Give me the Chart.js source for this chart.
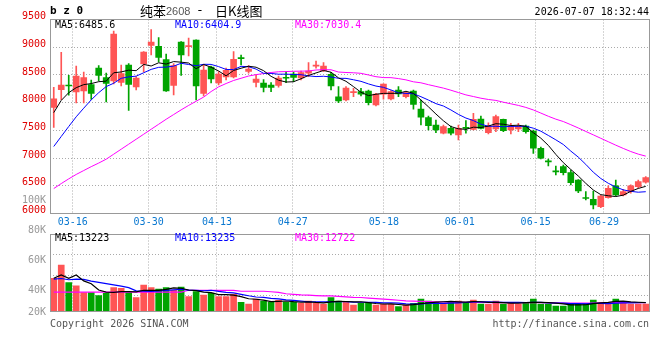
<!DOCTYPE html>
<html>
<head>
<meta charset="utf-8">
<script src="https://cdn.jsdelivr.net/npm/chart.js@4.4.1/dist/chart.umd.min.js"></script>
<style>
html, body { margin: 0; padding: 0; background: #fff; }
#wrap { position: relative; width: 660px; height: 360px; }
#wrap canvas { position: absolute; left: 0; top: 0; }
</style>
</head>
<body>
<div id="wrap">
  <canvas id="priceChart" width="660" height="360"></canvas>
  <canvas id="volChart" width="660" height="360"></canvas>
</div>
<script>
// x-axis date labels and the candle index they sit on
const dateTickIdx = [3, 13, 22, 32, 44, 54, 64, 73];
const dateTickLabels = ['03-16', '03-30', '04-13', '04-27', '05-18', '06-01', '06-15', '06-29'];

// volume axis labels as printed
const volTickValues = [100000, 80000, 60000, 40000, 20000];
const volTickLabels = ['100K', '80K', '60K', '40K', '20K'];

const priceMaLabels = ['MA5:6485.6', 'MA10:6404.9', 'MA30:7030.4'];
const volMaLabels = ['MA5:13223', 'MA10:13235', 'MA30:12722'];

// daily OHLC
const openP = [7916, 8234, 8310, 8192, 8210, 8328, 8625, 8454, 8391, 8364,
  8679, 8282, 8697, 9031, 9017, 8779, 8310, 9094, 9010, 9130,
  8165, 8643, 8355, 8463, 8463, 8805, 8562, 8364, 8355, 8315,
  8310, 8450, 8517, 8445, 8530, 8660, 8577, 8512, 8107, 8048,
  8180, 8198, 8210, 7958, 8151, 8066, 8228, 8107, 8210, 7886,
  7729, 7597, 7447, 7537, 7417, 7545, 7519, 7705, 7458, 7525,
  7700, 7507, 7525, 7579, 7489, 7177, 6940, 6760, 6845, 6736,
  6605, 6280, 6257, 6123, 6285, 6497, 6334, 6394, 6484, 6563];
const highP = [8277, 8908, 8494, 8661, 8553, 8409, 8670, 8535, 9293, 8679,
  8706, 8472, 8920, 9320, 9175, 8878, 8706, 9100, 9166, 9135,
  8688, 8661, 8562, 8625, 8919, 8860, 8667, 8508, 8418, 8360,
  8481, 8559, 8553, 8571, 8724, 8752, 8721, 8548, 8288, 8292,
  8259, 8259, 8228, 8169, 8340, 8219, 8288, 8201, 8228, 8048,
  7759, 7687, 7597, 7579, 7597, 7675, 7808, 7759, 7638, 7777,
  7705, 7628, 7628, 7597, 7507, 7200, 6984, 6857, 6875, 6785,
  6610, 6394, 6406, 6330, 6497, 6605, 6437, 6515, 6605, 6664];
const lowP = [7555, 8053, 8133, 7994, 7994, 8057, 8391, 8012, 8337, 8301,
  7859, 8228, 8553, 8860, 8733, 8201, 8138, 8490, 8842, 8048,
  8120, 8355, 8319, 8409, 8445, 8679, 8530, 8282, 8192, 8198,
  8277, 8360, 8378, 8409, 8468, 8620, 8559, 8228, 7999, 8030,
  8107, 8120, 7958, 7940, 8061, 8048, 8107, 8084, 7880, 7597,
  7507, 7458, 7435, 7417, 7326, 7447, 7507, 7525, 7435, 7476,
  7476, 7435, 7476, 7447, 7086, 6984, 6857, 6695, 6695, 6515,
  6376, 6244, 6082, 6105, 6275, 6316, 6316, 6365, 6455, 6545];
const closeP = [8071, 8319, 8300, 8481, 8454, 8165, 8490, 8349, 9239, 8526,
  8328, 8445, 8914, 9094, 8815, 8210, 8670, 8860, 9020, 8301,
  8589, 8427, 8517, 8584, 8782, 8795, 8607, 8427, 8273, 8273,
  8445, 8440, 8454, 8544, 8571, 8670, 8661, 8301, 8030, 8264,
  8190, 8151, 7999, 8156, 8337, 8198, 8156, 8180, 7970, 7736,
  7584, 7507, 7566, 7447, 7537, 7535, 7700, 7537, 7579, 7747,
  7494, 7579, 7566, 7476, 7177, 6996, 6930, 6750, 6736, 6556,
  6406, 6270, 6154, 6316, 6455, 6334, 6394, 6497, 6574, 6646];

// price moving averages
const ma5 = [7820, 8040, 8180, 8270, 8325, 8344, 8378, 8388, 8539, 8554,
  8586, 8577, 8690, 8661, 8719, 8696, 8741, 8730, 8715, 8612,
  8688, 8639, 8571, 8484, 8580, 8621, 8657, 8639, 8577, 8475,
  8405, 8372, 8377, 8431, 8491, 8536, 8580, 8549, 8447, 8385,
  8289, 8187, 8127, 8152, 8167, 8168, 8169, 8205, 8168, 8048,
  7925, 7795, 7673, 7568, 7528, 7518, 7557, 7551, 7578, 7620,
  7611, 7587, 7593, 7572, 7458, 7359, 7229, 7066, 6918, 6794,
  6676, 6544, 6424, 6340, 6320, 6306, 6331, 6399, 6452, 6490];
const ma10 = [7209, 7390, 7570, 7745, 7900, 8050, 8180, 8290, 8350, 8439,
  8465, 8478, 8539, 8600, 8637, 8641, 8659, 8710, 8688, 8666,
  8692, 8690, 8650, 8599, 8596, 8655, 8648, 8605, 8530, 8527,
  8513, 8514, 8508, 8504, 8483, 8470, 8476, 8463, 8439, 8438,
  8413, 8384, 8338, 8299, 8276, 8229, 8178, 8166, 8160, 8107,
  8047, 7982, 7939, 7868, 7788, 7722, 7676, 7612, 7573, 7574,
  7565, 7572, 7572, 7575, 7539, 7485, 7408, 7329, 7245, 7126,
  7017, 6886, 6745, 6632, 6545, 6479, 6426, 6400, 6384, 6393];
const ma30 = [6450, 6540, 6625, 6705, 6775, 6845, 6910, 6980, 7070, 7160,
  7250, 7340, 7430, 7520, 7610, 7700, 7785, 7870, 7950, 8025,
  8100, 8200, 8285, 8345, 8400, 8440, 8480, 8505, 8525, 8544,
  8557, 8561, 8566, 8568, 8572, 8589, 8594, 8593, 8552, 8544,
  8539, 8529, 8499, 8468, 8452, 8451, 8434, 8411, 8376, 8358,
  8324, 8293, 8262, 8224, 8182, 8140, 8110, 8080, 8057, 8040,
  8008, 7979, 7950, 7914, 7868, 7812, 7754, 7702, 7659, 7602,
  7543, 7480, 7419, 7357, 7295, 7233, 7174, 7118, 7071, 7035];

// volume and its moving averages
const volume = [51300, 72200, 44400, 39300, 28700, 28700, 24000, 27800, 36600, 35600,
  28700, 20900, 40800, 36600, 34500, 36600, 33000, 37700, 22500, 30300,
  25100, 27800, 22500, 22500, 26200, 13700, 11000, 18800, 15700, 13700,
  16800, 13700, 13700, 12100, 15700, 12100, 11000, 20900, 15700, 14600,
  9400, 12100, 13700, 9400, 10500, 10500, 6800, 9400, 12100, 18800,
  15700, 13700, 12100, 14600, 15700, 13700, 17300, 11000, 10500, 15700,
  11000, 13700, 11000, 13700, 18800, 11000, 11000, 7900, 7900, 10500,
  10500, 12100, 17300, 13700, 13700, 18800, 13700, 11000, 11000, 11000];
const volMa5 = [51300, 56500, 51300, 56500, 47200, 42700, 33000, 29700, 29200, 30500,
  30500, 29900, 32500, 32500, 32300, 33900, 36300, 35700, 32900, 32000,
  29700, 28700, 25600, 25600, 24800, 22500, 19200, 18400, 17100, 14600,
  15200, 15700, 14700, 14000, 14400, 13500, 12900, 14400, 15100, 14900,
  14300, 14500, 13100, 11800, 11000, 11200, 10200, 9300, 9900, 11500,
  12600, 13900, 14500, 15000, 14400, 14000, 14700, 14500, 13600, 13600,
  13100, 12400, 12400, 13000, 13600, 13600, 13100, 12500, 11300, 9700,
  9600, 9800, 11700, 12800, 13500, 15100, 15400, 14200, 13700, 13100];
const volMa10 = [50000, 51000, 49000, 50000, 49500, 47000, 45000, 43000, 41000, 38900,
  36600, 31500, 31100, 30800, 31400, 32200, 33100, 34100, 32700, 32200,
  31800, 32500, 30700, 29300, 28400, 26100, 23900, 22000, 21400, 19700,
  18900, 17500, 16600, 15500, 14500, 14300, 14300, 14500, 14500, 14600,
  13900, 13700, 13700, 13500, 12900, 12800, 12400, 11200, 10900, 11300,
  11900, 12100, 11900, 12400, 12900, 13300, 14300, 14500, 14300, 14000,
  13500, 13500, 13400, 13300, 13600, 13400, 12700, 12400, 12200, 11700,
  11600, 11400, 12100, 12100, 11600, 12300, 12600, 12900, 13200, 13300];
const volMa30 = [29500, 29500, 29500, 29500, 29500, 29500, 29500, 29500, 29500, 29500,
  29500, 29500, 29500, 29500, 29500, 29500, 29500, 29500, 32500, 32500,
  32500, 32500, 32500, 32500, 32500, 31000, 31000, 31000, 31000, 30200,
  29100, 27100, 26100, 25200, 24800, 24200, 23800, 23600, 22900, 22200,
  21500, 21200, 20300, 19400, 18600, 17700, 16900, 15900, 15600, 15200,
  14900, 14400, 14100, 13800, 13500, 13500, 13700, 13400, 13200, 13300,
  13100, 13100, 13000, 13100, 13200, 13100, 13100, 12700, 12400, 12300,
  12300, 12300, 12500, 12600, 12700, 13000, 13200, 13300, 13200, 13000];

const UP = '#ff5555';
const DOWN = '#00a400';
const GRID = '#aaaaaa';
const FONT = "'DejaVu Sans Mono', monospace";
const CJK = "'Noto Sans CJK SC', sans-serif";

const idx = closeP.map((_, i) => i);
const candleColors = idx.map(i => closeP[i] >= openP[i] ? UP : DOWN);

const boxPlugin = {
  id: 'box',
  afterDatasetsDraw(chart) {
    const { ctx, chartArea: a } = chart;
    const l = Math.floor(a.left) + 0.5, r = Math.floor(a.right) + 0.5;
    const t = Math.floor(a.top) + 0.5, b = Math.floor(a.bottom) + 0.5;
    ctx.save();
    ctx.strokeStyle = '#999';
    ctx.lineWidth = 1;
    ctx.strokeRect(l, t, r - l, b - t);
    ctx.restore();
  }
};

function lineSet(data, color, width) {
  return {
    type: 'line', data: data, borderColor: color, borderWidth: width,
    pointRadius: 0, tension: 0, fill: false, order: 1,
    xAxisID: 'x', yAxisID: 'y'
  };
}

// linear helper axis over the candle index, used for the dated grid lines
function gridAxis(heightFn, showLabels) {
  return {
    type: 'linear', position: 'bottom', min: 0, max: idx.length - 1,
    offset: false,
    afterFit: heightFn,
    afterBuildTicks: s => { s.ticks = dateTickIdx.map(v => ({ value: v })); },
    ticks: {
      display: showLabels, autoSkip: false, maxRotation: 0, padding: 3,
      color: '#0a78d0', font: { family: FONT, size: 10 },
      callback: (v, i) => dateTickLabels[i]
    },
    grid: { color: GRID, drawTicks: false, offset: false },
    border: { display: false, dash: [1, 2] }
  };
}

const priceText = {
  id: 'priceText',
  afterDraw(chart) {
    const ctx = chart.ctx;
    ctx.save();
    ctx.textBaseline = 'middle';
    ctx.fillStyle = '#000';
    ctx.font = 'bold 11px ' + FONT;
    ctx.fillText('b z 0', 50, 11);

    ctx.font = '13px ' + CJK;
    ctx.fillText('纯苯', 140, 11);
    ctx.fillStyle = '#555';
    ctx.font = "11px 'Liberation Sans', sans-serif";
    ctx.fillText('2608', 166, 12);
    ctx.fillStyle = '#000';
    ctx.font = '13px ' + FONT;
    ctx.fillText('-', 196, 11);
    ctx.font = '13px ' + CJK;
    ctx.fillText('日K线图', 215, 11);

    ctx.font = '10px ' + FONT;
    ctx.textAlign = 'right';
    ctx.fillText('2026-07-07 18:32:44', 649, 12);

    ctx.textAlign = 'left';
    const cols = ['#000', '#0000ff', '#ff00ff'];
    const xs = [55, 175, 295];
    priceMaLabels.forEach((t, k) => {
      ctx.fillStyle = cols[k];
      ctx.fillText(t, xs[k], 25);
    });
    ctx.restore();
  }
};

new Chart(document.getElementById('priceChart'), {
  type: 'bar',
  data: {
    labels: idx,
    datasets: [
      {
        data: idx.map(i => [lowP[i], highP[i]]), backgroundColor: candleColors,
        barThickness: 1, grouped: false, order: 3, xAxisID: 'x', yAxisID: 'y'
      },
      {
        data: idx.map(i => [openP[i], closeP[i]]), backgroundColor: candleColors,
        barThickness: 6, minBarLength: 1, grouped: false, order: 2, xAxisID: 'x', yAxisID: 'y'
      },
      lineSet(ma5, '#000000', 1),
      lineSet(ma10, '#0000ff', 1),
      lineSet(ma30, '#ff00ff', 1)
    ]
  },
  options: {
    responsive: false,
    animation: false,
    events: [],
    layout: { padding: { left: 0, right: 10.5, top: 19.5, bottom: 128 } },
    plugins: { legend: { display: false }, tooltip: { enabled: false } },
    scales: {
      x: { type: 'category', display: false, offset: true },
      xg: gridAxis(s => { s.height = 18.5; }, true),
      y: {
        type: 'linear', position: 'left', min: 6000, max: 9500,
        afterFit: s => { s.width = 50; },
        ticks: {
          stepSize: 500, color: '#e00000', padding: 4, labelOffset: -3,
          font: { family: FONT, size: 10 }, callback: v => String(v)
        },
        grid: { color: GRID, drawTicks: false },
        border: { display: false, dash: [1, 2] }
      }
    }
  },
  plugins: [boxPlugin, priceText]
});

const volText = {
  id: 'volText',
  afterDraw(chart) {
    const ctx = chart.ctx;
    const a = chart.chartArea;
    const sl = chart.scales.yl;
    ctx.save();
    ctx.textBaseline = 'middle';
    ctx.font = '10px ' + FONT;
    ctx.textAlign = 'right';
    ctx.fillStyle = '#999';
    volTickValues.forEach((v, k) => {
      const y = Math.min(sl.getPixelForValue(v), a.bottom + 1);
      ctx.fillText(volTickLabels[k], 46, y);
    });

    ctx.textAlign = 'left';
    const cols = ['#000', '#0000ff', '#ff00ff'];
    const xs = [55, 175, 295];
    volMaLabels.forEach((t, k) => {
      ctx.fillStyle = cols[k];
      ctx.fillText(t, xs[k], 238.5);
    });

    ctx.fillStyle = '#555';
    ctx.fillText('Copyright 2026 SINA.COM', 50, 324);
    ctx.textAlign = 'right';
    ctx.fillText('http://finance.sina.com.cn', 649, 324);
    ctx.restore();
  }
};

new Chart(document.getElementById('volChart'), {
  type: 'bar',
  data: {
    labels: idx,
    datasets: [
      {
        data: volume, backgroundColor: candleColors, barThickness: 6,
        grouped: false, order: 2, xAxisID: 'x', yAxisID: 'y'
      },
      lineSet(volMa5, '#000000', 1.2),
      lineSet(volMa10, '#0000ff', 1.2),
      lineSet(volMa30, '#ff00ff', 1.2)
    ]
  },
  options: {
    responsive: false,
    animation: false,
    events: [],
    layout: { padding: { left: 0, right: 10.5, top: 234.5, bottom: 49 } },
    plugins: { legend: { display: false }, tooltip: { enabled: false } },
    scales: {
      x: { type: 'category', display: false, offset: true },
      xg: gridAxis(s => { s.height = 0; }, false),
      y: { type: 'linear', display: false, min: 0, max: 120000 },
      yl: { type: 'linear', display: false, min: 26490, max: 77150 },
      yg: {
        type: 'linear', position: 'left', min: -0.765, max: 2.99,
        afterFit: s => { s.width = 50; },
        afterBuildTicks: s => { s.ticks = [0, 1, 2].map(v => ({ value: v })); },
        ticks: { display: false },
        grid: { color: GRID, drawTicks: false },
        border: { display: false, dash: [1, 2] }
      }
    }
  },
  plugins: [boxPlugin, volText]
});
</script>
</body>
</html>
